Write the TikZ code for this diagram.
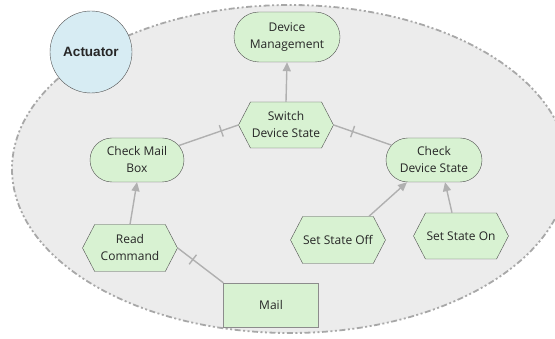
\documentclass[tikz,border=0pt]{standalone}
\usepackage{fontspec}
\setmainfont{Open Sans}
\newfontfamily\actfont{Liberation Sans}
\usetikzlibrary{shapes.misc,shapes.symbols,arrows.meta,decorations.markings}
\definecolor{nodegreen}{HTML}{D8F2D2}
\definecolor{actblue}{HTML}{D7ECF3}
\definecolor{areagray}{HTML}{ECECEC}
\definecolor{rimgray}{HTML}{A8A8A8}
\definecolor{linkgray}{HTML}{B0B0B0}
\definecolor{edgegray}{HTML}{505050}
\tikzset{every node/.style={align=center,text=black!85,font=\fontsize{12}{17}\selectfont},
  fnbox/.style={draw=edgegray,fill=nodegreen,rounded rectangle,inner sep=0pt,minimum height=44pt},
  evhex/.style={draw=edgegray,fill=nodegreen,signal,signal to=west and east,signal pointer angle=125,inner sep=0pt,minimum height=46pt,minimum width=95pt},
  infobox/.style={draw=black!45,fill=nodegreen,rectangle,inner sep=0pt,minimum width=95pt,minimum height=44pt},
  flow/.style={draw=linkgray,line width=1.4pt,-{Triangle[length=9pt,width=8pt]}},
  link/.style={draw=linkgray,line width=1.4pt},
  tick/.style={postaction={decorate},decoration={markings,mark=at position #1 with {\draw[linkgray,line width=1.4pt] (0,-6pt) -- (0,6pt);}}}}

\begin{document}
\begin{tikzpicture}[x=1pt, y=-1pt]
\useasboundingbox (0,0) rectangle (555,339);
\draw[fill=areagray, draw=rimgray, line width=1.8pt, dash pattern=on 6pt off 2.5pt on 2pt off 2.5pt on 2pt off 2.5pt] (290,169) ellipse [x radius=278, y radius=164];
\node[circle, draw=edgegray, fill=actblue, minimum size=82pt, font=\actfont\bfseries\fontsize{13.5}{16}\selectfont] (act) at (91,52) {Actuator};

\node[fnbox, minimum width=106pt, minimum height=50pt] (dm) at (287,37) {Device\\Management};
\node[evhex] (sw) at (286,125) {Switch\\Device State};
\node[fnbox, minimum width=94pt] (cmb) at (137,160) {Check Mail\\Box};
\node[fnbox, minimum width=96pt] (cds) at (434,160) {Check\\Device State};
\node[evhex, minimum height=47pt] (rc) at (130,248) {Read\\Command};
\node[infobox] (mail) at (271,305) {Mail};
\node[evhex, minimum height=47pt] (sso) at (338,240) {Set State Off};
\node[evhex] (sson) at (461,236) {Set State On};

\draw[flow] (sw.north) -- (dm.south);
\draw[flow] (rc.north) -- (cmb.south);
\draw[flow] ([xshift=31pt]sso.north) -- ([xshift=-27pt]cds.south);
\draw[flow] ([xshift=-9pt]sson.north) -- ([xshift=11pt]cds.south);
\draw[link, tick=18pt] (sw.west) -- (cmb);
\draw[link, tick=20pt] (sw.east) -- (cds);
\draw[link, tick=19pt] (rc.east) -- (mail.north west);
\end{tikzpicture}
\end{document}
